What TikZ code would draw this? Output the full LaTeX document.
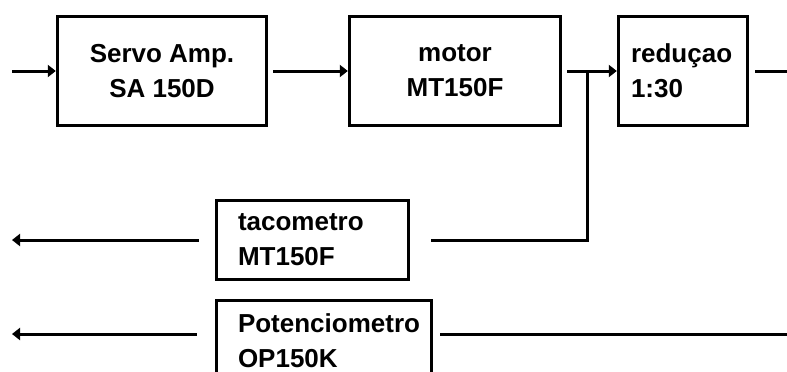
\documentclass[tikz,border=0pt]{standalone}
\usepackage{fontspec}
\setmainfont{Liberation Sans}
\usetikzlibrary{arrows.meta, positioning}

\begin{document}
\begin{tikzpicture}[
    x=1pt, y=-1pt,
    blk/.style={draw, rectangle, line width=3.4pt, inner sep=0pt,
                font=\fontsize{26}{35}\selectfont\bfseries},
    cblk/.style={blk, align=center, minimum height=109pt},
    lblk/.style={blk, align=left, inner xsep=#1},
    sig/.style={line width=3pt, -{Triangle[length=8pt, width=12pt]}},
    wire/.style={line width=3pt},
]
\useasboundingbox (0,0) rectangle (787,372);
%% Forward path
\node[cblk, minimum width=209pt] (servo) at (162,71) {Servo Amp.\\ SA 150D};
\node[cblk, minimum width=211pt] (motor) at (455,71) {motor\\MT150F};
\node[lblk=12.5pt, text width=104pt, minimum height=109pt] (red) at (683,71) {reduçao\\1:30};
%% Feedback elements
\node[lblk=21.5pt, text width=149pt, minimum height=79pt] (tach) at (312.5,240) {tacometro\\MT150F};
\node[lblk=21.5pt, text width=172pt, minimum width=215pt, minimum height=80pt] (pot) at (324,340.5) {Potenciometro\\OP150K};
%% Free ends and junction
\coordinate (in) at (12,71);
\coordinate (out) at (787,71);
\coordinate (jn) at (587,71);
\coordinate (tachout) at (12,240);
\coordinate (potout) at (12,334);
\coordinate (potin) at (787,334);
%% Connectors
\draw[sig] (in) -- (servo);
\draw[sig, shorten <=5pt] (servo) -- (motor);
\draw[sig, shorten <=5pt] (motor) -- (red);
\draw[wire, shorten <=6pt] (red) -- (out);
\draw[wire, shorten >=21pt] (jn) |- (tach.east);
\draw[sig, shorten <=16pt] (tach.west) -- (tachout);
\draw[wire, shorten >=7pt] (potin) -- (potin -| pot.east);
\draw[sig, shorten <=18pt] (potout -| pot.west) -- (potout);
\end{tikzpicture}
\end{document}
